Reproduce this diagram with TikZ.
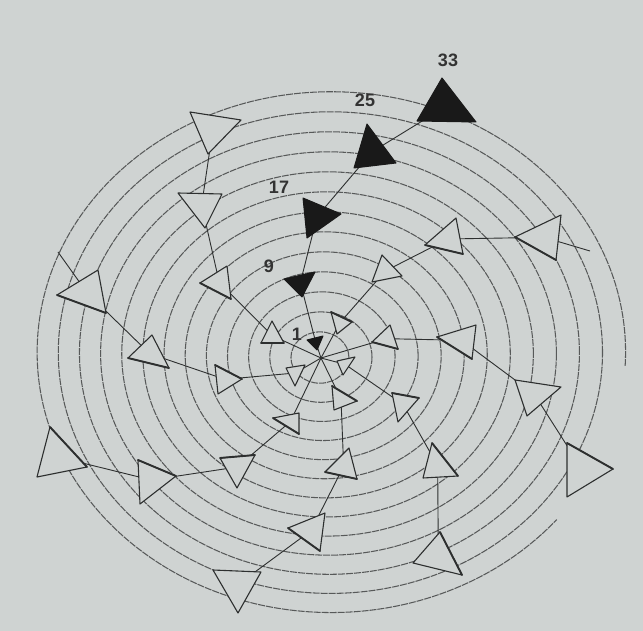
\documentclass[tikz,border=0pt]{standalone}
\usepackage{fontspec}
\setmainfont{Liberation Sans}
\usetikzlibrary{calc}
\definecolor{page}{RGB}{207,211,210}
\definecolor{ink}{RGB}{45,47,47}
\newcommand\deftri[4]{%
  \coordinate (#1-1) at (#2);
  \coordinate (#1-2) at (#3);
  \coordinate (#1-3) at (#4);
  \coordinate (#1) at (barycentric cs:#1-1=1,#1-2=1,#1-3=1);
}
\newcommand\drawtri[2]{\draw[#1] (#2-1) -- (#2-2) -- (#2-3) -- cycle;}
\tikzset{
  ring/.style={draw=ink!80, line width=1.05pt, dash pattern=on 7pt off 1pt},
  arm/.style={draw=ink, line width=0.9pt},
  tri/.style={draw=ink, fill=page, line width=1.1pt, line join=round},
  blacktri/.style={draw=black!90, fill=black!90, line width=1pt, line join=round},
  thickedge/.style={draw=ink, line width=1.9pt, line cap=round},
  lab/.style={font=\fontsize{18}{18}\selectfont\bfseries, text=black!80, inner sep=0pt},
}
\begin{document}
\begin{tikzpicture}[x=1pt,y=-1pt]
\useasboundingbox (0,0) rectangle (643,631);
\fill[page] (0,0) rectangle (643,631);
% rings
\foreach \k in {1,...,12}{
  \pgfmathsetmacro\cx{319+0.95*\k}
  \pgfmathsetmacro\cy{358-0.45*\k}
  \pgfmathsetmacro\rx{6.9+22.1*\k}
  \pgfmathsetmacro\ry{0.885*\rx}
  \draw[ring] (\cx,\cy) ellipse [x radius=\rx pt, y radius=\ry pt];
}
\draw[ring] ([shift={(-3:294.2pt and 260.4pt)}]331.35,352.15) arc [start angle=-3, end angle=320, x radius=294.2pt, y radius=260.4pt];
% centre and triangles
\coordinate (ctr) at (321,358);
\deftri{t1}{307,340}{323,336}{317,350}
\deftri{t9}{284,279}{315,272}{302,297}
\deftri{t17}{303,198}{341,214}{307,238}
\deftri{t25}{367,124}{396,163}{354,168}
\deftri{t33}{442,78}{476,122}{417,121}
\deftri{A}{190,112}{241,120}{208,154}
\deftri{B}{178,193}{222,194}{205,228}
\deftri{C}{200,283}{227,266}{231,299}
\deftri{D}{57,295}{98,270}{106,313}
\deftri{E}{128,358}{152,335}{169,368}
\deftri{F}{261,343}{272,321}{284,343}
\deftri{G}{215,365}{242,379}{218,394}
\deftri{H}{286,368}{305,365}{295,386}
\deftri{I}{273,418}{299,413}{299,434}
\deftri{J}{220,458}{255,455}{237,488}
\deftri{K}{138,460}{176,476}{140,504}
\deftri{L}{50,427}{87,467}{37,477}
\deftri{M}{288,528}{325,513}{320,551}
\deftri{N}{213,570}{261,572}{238,613}
\deftri{O}{325,472}{349,448}{357,479}
\deftri{P}{332,386}{357,401}{334,410}
\deftri{Q}{392,393}{419,398}{398,422}
\deftri{R}{432,443}{458,476}{423,478}
\deftri{S}{440,532}{462,575}{413,563}
\deftri{T}{515,380}{561,387}{527,416}
\deftri{U}{567,443}{613,469}{567,497}
\deftri{V}{437,337}{476,325}{472,359}
\deftri{W}{372,342}{390,325}{398,349}
\deftri{X}{372,282}{382,255}{402,276}
\deftri{Y}{425,245}{456,218}{463,254}
\deftri{Z}{515,237}{561,215}{556,260}
\deftri{AA}{331,312}{352,322}{337,334}
\deftri{AC}{337,361}{355,357}{343,375}
\coordinate (Dx) at (58,252);
\coordinate (Zx) at (590,251);
% arms
\draw[arm] (ctr) -- (t1) -- (t9) -- (t17) -- (t25) -- (t33);
\draw[arm] (ctr) -- (F) -- (C) -- (B) -- (A);
\draw[arm] (ctr) -- (H) -- (G) -- (E) -- (D) -- (Dx);
\draw[arm] (ctr) -- (I) -- (J) -- (K) -- (L);
\draw[arm] (ctr) -- (P) -- (O) -- (M) -- (N);
\draw[arm] (ctr) -- (AC) -- (Q) -- (R) -- (S);
\draw[arm] (ctr) -- (W) -- (V) -- (T) -- (U);
\draw[arm] (ctr) -- (AA) -- (X) -- (Y) -- (Z) -- (Zx);
% triangles
\foreach \n in {A,B,C,D,E,F,G,H,I,J,K,L,M,N,O,P,Q,R,S,T,U,V,W,X,Y,Z,AA,AC}{\drawtri{tri}{\n}}
\foreach \n in {t1,t9,t17,t25,t33}{\drawtri{blacktri}{\n}}
% darker edges
\draw[thickedge] (C-1) -- (C-3);
\draw[thickedge] (D-1) -- (D-3);
\draw[thickedge] (E-1) -- (E-3);
\draw[thickedge] (F-1) -- (F-3);
\draw[thickedge] (G-1) -- (G-2);
\draw[thickedge] (I-1) -- (I-3);
\draw[thickedge] (J-1) -- (J-2);
\draw[thickedge] (K-1) -- (K-2);
\draw[thickedge] (L-1) -- (L-2);
\draw[thickedge] (M-1) -- (M-3);
\draw[thickedge] (O-1) -- (O-3);
\draw[thickedge] (P-1) -- (P-2);
\draw[thickedge] (Q-1) -- (Q-2);
\draw[thickedge] (R-1) -- (R-2);
\draw[thickedge] (S-1) -- (S-2);
\draw[thickedge] (U-1) -- (U-2);
\draw[thickedge] (V-1) -- (V-3);
\draw[thickedge] (W-1) -- (W-3);
\draw[thickedge] (Y-1) -- (Y-3);
\draw[thickedge] (Z-1) -- (Z-3);
\draw[thickedge] (AA-1) -- (AA-2);
% labels
\node[lab] (l1) at (297,334) {1};
\node[lab] (l9) at (269,266) {9};
\node[lab] (l17) at (279,187) {17};
\node[lab] (l25) at (365,100) {25};
\node[lab] (l33) at (448,60) {33};
\end{tikzpicture}
\end{document}
